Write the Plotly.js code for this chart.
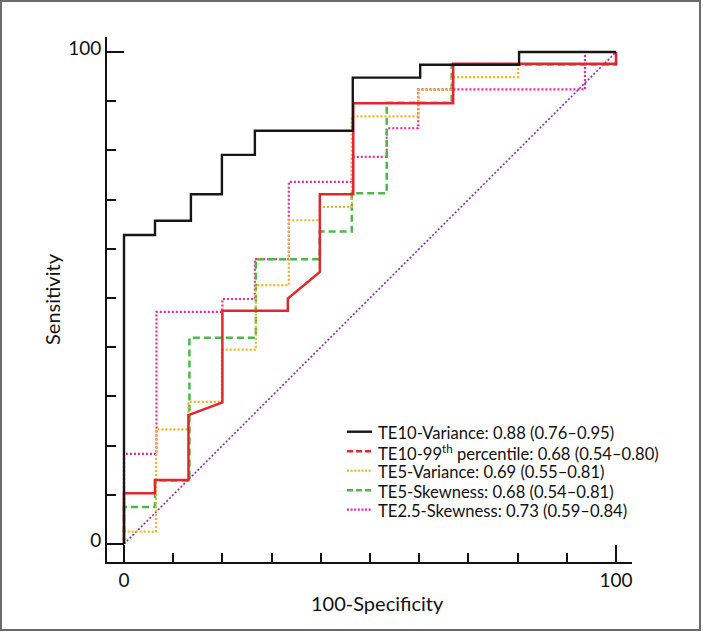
<!DOCTYPE html>
<html>
<head>
<meta charset="utf-8">
<script src="https://cdn.plot.ly/plotly-3.0.1.min.js"></script>
<style>
  html, body { margin: 0; padding: 0; background: #fff; }
  #chart { position: absolute; left: 0; top: 0; width: 703px; height: 632px; }
  #frame { position: absolute; left: 0; top: 0; width: 697px; height: 627px; border: 2px solid #6b6b6b; pointer-events: none; }
</style>
</head>
<body>
<div id="chart"></div>
<div id="frame"></div>
<script>
// ROC curves: x = 100-Specificity, y = Sensitivity
const te10VarX = [0, 0, 6.3, 6.3, 13.6, 13.6, 19.9, 19.9, 26.6, 26.6, 46.5, 46.5, 60.2, 60.2, 80.3, 80.3, 100];
const te10VarY = [0, 62.8, 62.8, 65.7, 65.7, 71.1, 71.1, 79.1, 79.1, 84.0, 84.0, 94.8, 94.8, 97.4, 97.4, 100, 100];

const te10PctX = [0, 0, 6.3, 6.3, 13.1, 13.1, 20.0, 20.0, 33.3, 33.3, 39.8, 39.8, 46.6, 46.6, 66.9, 66.9, 100, 100];
const te10PctY = [0, 10.3, 10.3, 13.0, 13.0, 26.2, 28.8, 47.4, 47.4, 49.9, 55.3, 71.1, 71.1, 89.6, 89.6, 97.6, 97.6, 100];

const te5VarX = [0, 0, 6.5, 6.5, 13.1, 13.1, 19.9, 19.9, 26.8, 26.8, 33.5, 33.5, 39.8, 39.8, 46.3, 46.3, 59.8, 59.8, 66.6, 66.6, 80.1, 80.1, 100, 100];
const te5VarY = [0, 2.5, 2.5, 23.3, 23.3, 28.9, 28.9, 39.5, 39.5, 52.6, 52.6, 65.8, 65.8, 68.5, 68.5, 86.9, 86.9, 92.3, 92.3, 94.9, 94.9, 97.5, 97.5, 100];

const te5SkewX = [0, 0, 6.3, 6.3, 13.3, 13.3, 26.8, 26.8, 39.8, 39.8, 46.3, 46.3, 53.4, 53.4, 66.6, 66.6, 100, 100];
const te5SkewY = [0, 7.5, 7.5, 12.9, 12.9, 41.9, 41.9, 57.9, 57.9, 63.5, 63.5, 71.3, 71.3, 89.7, 89.7, 97.4, 97.4, 100];

const te25SkewX = [0, 0, 6.6, 6.6, 20.0, 20.0, 26.6, 26.6, 33.5, 33.5, 46.3, 46.3, 53.4, 53.4, 59.8, 59.8, 93.7, 93.7, 100];
const te25SkewY = [0, 18.3, 18.3, 47.2, 47.2, 49.8, 49.8, 57.9, 57.9, 73.6, 73.6, 78.7, 78.7, 84.5, 84.5, 92.4, 92.4, 100, 100];

const chanceX = [0, 100];
const chanceY = [0, 100];

const seriesNames = [
  'TE10-Variance: 0.88 (0.76–0.95)',
  'TE10-99<sup>th</sup> percentile: 0.68 (0.54–0.80)',
  'TE5-Variance: 0.69 (0.55–0.81)',
  'TE5-Skewness: 0.68 (0.54–0.81)',
  'TE2.5-Skewness: 0.73 (0.59–0.84)'
];

const xTitle = '100-Specificity';
const yTitle = 'Sensitivity';
const xTickVals = [0, 100];
const xTickText = ['0', '100'];
const yTickVals = [0, 100];
const yTickText = ['0', '100'];
const minorTickVals = [10, 20, 30, 40, 50, 60, 70, 80, 90];

const colBlack = '#161616', colRed = '#e2262f', colYellow = '#efb323', colGreen = '#4cb848', colPink = '#f0279a', colPurple = '#8c2a9e';

// legend key styles (the key shows these styles)
const legendColors = [colBlack, colRed, colYellow, colGreen, colPink];
const legendDash = ['solid', '6px,3px', '2px,1.6px', '6px,3px', '2px,1.6px'];
const legendWidth = [2.4, 2.4, 2.2, 2.4, 2.2];

const traces = [
  {x: chanceX, y: chanceY, mode: 'lines', line: {color: colPurple, width: 1.6, dash: '2px,2px'}, hoverinfo: 'skip'},
  {x: te25SkewX, y: te25SkewY, mode: 'lines', name: seriesNames[4], line: {color: colPink, width: 2.2, dash: '2px,2px'}},
  {x: te5SkewX, y: te5SkewY, mode: 'lines', name: seriesNames[3], line: {color: colGreen, width: 2.5, dash: '7px,4px'}},
  {x: te5VarX, y: te5VarY, mode: 'lines', name: seriesNames[2], line: {color: colYellow, width: 2.2, dash: '2px,2px'}},
  {x: te10PctX, y: te10PctY, mode: 'lines', name: seriesNames[1], line: {color: colRed, width: 2.5}},
  {x: te10VarX, y: te10VarY, mode: 'lines', name: seriesNames[0], line: {color: colBlack, width: 2.4}}
];

const fontFam = 'Lato, "Open Sans", sans-serif';

// plot area in pixels: left 107, top 37, width 525, height 525
const plotL = 107, plotT = 37, plotW = 525, plotH = 525;
const px2x = p => (p - plotL) / plotW;
const py2y = p => (plotT + plotH - p) / plotH;

const legendRow0 = 431.7, legendRowGap = 19.5;
const shapes = [];
const annotations = [
  {text: xTitle, xref: 'paper', yref: 'paper', x: px2x(377.5), y: py2y(603), xanchor: 'center', yanchor: 'middle', showarrow: false, font: {family: fontFam, size: 20, color: '#111'}}
];
seriesNames.forEach((nm, i) => {
  const yy = legendRow0 + i * legendRowGap;
  shapes.push({type: 'line', xref: 'paper', yref: 'paper', x0: px2x(347), x1: px2x(372), y0: py2y(yy), y1: py2y(yy),
    line: {color: legendColors[i], width: legendWidth[i], dash: legendDash[i]}});
  annotations.push({text: nm, xref: 'paper', yref: 'paper', x: px2x(377), y: py2y(yy + 1.5), xanchor: 'left', yanchor: 'middle',
    showarrow: false, borderpad: 0, font: {family: fontFam, size: 16.6, color: '#111'}});
});

const layout = {
  width: 703, height: 632,
  margin: {l: 107, r: 71, t: 37, b: 70, pad: 0},
  paper_bgcolor: '#ffffff', plot_bgcolor: '#ffffff',
  font: {family: fontFam, color: '#111', size: 16},
  showlegend: false,
  xaxis: {
    range: [-3.455, 103.25], showgrid: false, zeroline: false,
    showline: true, linecolor: '#111', linewidth: 2,
    ticks: 'inside', ticklen: 17, tickwidth: 2, tickcolor: '#111',
    tickmode: 'array', tickvals: xTickVals, ticktext: xTickText,
    tickfont: {family: fontFam, size: 19, color: '#111'},
    minor: {tickmode: 'array', tickvals: minorTickVals, ticks: 'inside', ticklen: 9, tickwidth: 2, tickcolor: '#111', showgrid: false},
    automargin: false,
    fixedrange: true
  },
  yaxis: {
    range: [-3.66, 103.05], showgrid: false, zeroline: false,
    showline: true, linecolor: '#111', linewidth: 2,
    ticks: 'inside', ticklen: 17, tickwidth: 2, tickcolor: '#111',
    tickmode: 'array', tickvals: yTickVals, ticktext: yTickText,
    tickfont: {family: fontFam, size: 19, color: '#111'},
    ticklabelshift: -4,
    minor: {tickmode: 'array', tickvals: minorTickVals, ticks: 'inside', ticklen: 9, tickwidth: 2, tickcolor: '#111', showgrid: false},
    title: {text: yTitle, standoff: 2, font: {family: fontFam, size: 20, color: '#111'}},
    automargin: false,
    fixedrange: true
  },
  shapes: shapes,
  annotations: annotations
};

Plotly.newPlot('chart', traces, layout, {staticPlot: true, displayModeBar: false});
</script>
</body>
</html>
